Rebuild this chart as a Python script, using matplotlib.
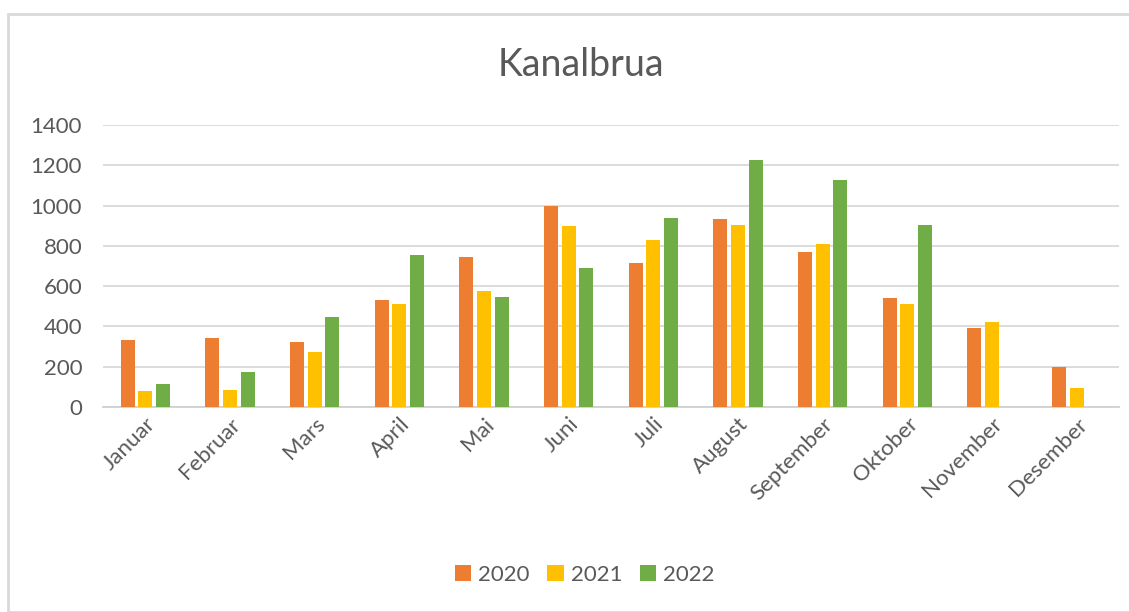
import numpy as np
import matplotlib.pyplot as plt
from matplotlib.patches import Rectangle

plt.rcParams['font.family'] = ['Lato', 'DejaVu Sans']

maneder = ['Januar', 'Februar', 'Mars', 'April', 'Mai', 'Juni', 'Juli',
           'August', 'September', 'Oktober', 'November', 'Desember']
aar = ['2020', '2021', '2022']
v2020 = [335, 345, 322, 530, 743, 1000, 717, 935, 771, 540, 393, 201]
v2021 = [78, 86, 272, 509, 575, 898, 829, 905, 809, 509, 421, 92]
v2022 = [116, 173, 448, 755, 547, 690, 940, 1225, 1128, 905, 0, 0]
farger = ['#ed7d31', '#ffc000', '#70ad47']

fig = plt.figure(figsize=(11.29, 6.12), dpi=100)
# ramme rundt diagrammet
fig.patches.append(Rectangle((8 / 1129, 0), 1.1, 1 - 14 / 612,
                             transform=fig.transFigure, fill=False,
                             edgecolor='#d9d9d9', linewidth=2))

ax = fig.add_axes([103 / 1129, 1 - 407 / 612, (1119 - 103) / 1129, (407 - 125) / 612])
x = np.arange(len(maneder))
bredde = 0.165
steg = 0.21
for i, (serie, navn) in enumerate(zip([v2020, v2021, v2022], aar)):
    verdier = np.array(serie, dtype=float)
    synlig = verdier > 0
    ax.bar(x[synlig] + (i - 1) * steg, verdier[synlig], width=bredde,
           color=farger[i], label=navn, zorder=3)

ax.set_xlim(-0.5, len(maneder) - 0.5)
ax.set_ylim(0, 1400)
ax.set_yticks(range(0, 1401, 200))
ax.yaxis.grid(True, color='#d9d9d9', linewidth=1.3, zorder=0)
for s in ['top', 'right', 'left']:
    ax.spines[s].set_visible(False)
ax.spines['bottom'].set_color('#d0d0d0')
ax.spines['bottom'].set_linewidth(1.3)
ax.tick_params(axis='both', length=0, labelsize=16, labelcolor='#595959')
ax.tick_params(axis='y', pad=15)
ax.tick_params(axis='x', pad=5)
ax.set_xticks(x)
ax.set_xticklabels(maneder, rotation=45, ha='right', rotation_mode='anchor')

fig.text(0.515, 1 - 65 / 612, 'Kanalbrua', ha='center', va='center',
         fontsize=27, color='#595959')

ax.legend(loc='center', bbox_to_anchor=(0.474, (407 - 575) / 282), ncol=3,
          frameon=False, fontsize=16, handlelength=0.75, handleheight=0.75,
          handletextpad=0.3, columnspacing=0.8, labelcolor='#595959')

fig.savefig('out.png', dpi=100)
